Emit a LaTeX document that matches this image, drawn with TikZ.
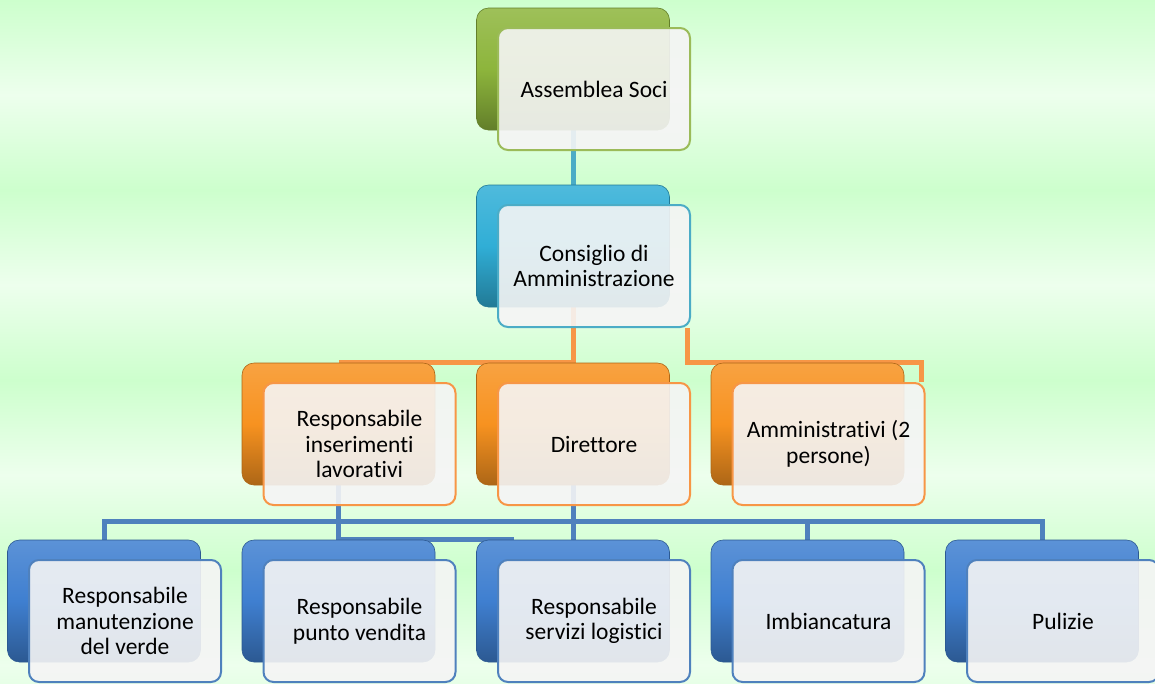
\documentclass[tikz,border=0pt]{standalone}
\usepackage{fontspec}
\setmainfont{Carlito}[Ligatures=NoCommon]

\definecolor{smgreen}{HTML}{9BBB59}
\definecolor{smcyan}{HTML}{4BACC6}
\definecolor{smorange}{HTML}{F79646}
\definecolor{smblue}{HTML}{4F81BD}
\definecolor{bkgreen}{HTML}{8DB53C}
\definecolor{bkcyan}{HTML}{30AED6}
\definecolor{bkorange}{HTML}{F79220}
\definecolor{bkblue}{HTML}{3F7FD0}
\definecolor{bgdark}{RGB}{205,255,205}
\definecolor{bglight}{RGB}{237,255,237}

\pgfdeclarelayer{bg}
\pgfdeclarelayer{links}
\pgfsetlayers{bg,links,main}

\tikzset{
    backbox/.style={rounded corners=12pt, minimum width=193pt, minimum height=122pt,
        inner sep=0pt, draw=#1!70!black, line width=0.6pt,
        top color=#1!85!white, bottom color=#1!70!black, middle color=#1},
    frontbox/.style={rounded corners=10pt, minimum width=192pt, minimum height=122pt,
        inner sep=2pt, draw=#1, line width=2pt, fill=black!4, fill opacity=0.9,
        text opacity=1, align=center, font=\fontsize{23.5}{25.5}\selectfont},
    link/.style={draw=#1, line width=5pt},
}

\begin{document}
\begin{tikzpicture}[x=1pt,y=-1pt]
    \useasboundingbox (0,0) rectangle (1155,683);
    \clip (0,0) rectangle (1155,683);

    % Background bands
    \begin{pgfonlayer}{bg}
        \foreach \k in {0,...,3} {
            \shade[top color=bgdark, bottom color=bglight] (0,190*\k) rectangle (1155,190*\k+95);
            \shade[top color=bglight, bottom color=bgdark] (0,190*\k+95) rectangle (1155,190*\k+190);
        }
    \end{pgfonlayer}

    % Assemblea
    \node[backbox=bkgreen] (asB) at (573,69) {};
    \node[frontbox=smgreen] (as) at (594,89) {Assemblea Soci};

    % Consiglio
    \node[backbox=bkcyan] (cdaB) at (573,246) {};
    \node[frontbox=smcyan] (cda) at (594,266) {Consiglio di\\Amministrazione};

    % Second level
    \node[backbox=bkorange] (resB) at (338.5,424) {};
    \node[frontbox=smorange] (res) at (359.5,444) {Responsabile\\inserimenti\\lavorativi};
    \node[backbox=bkorange] (dirB) at (573,424) {};
    \node[frontbox=smorange] (dir) at (594,444) {Direttore};
    \node[backbox=bkorange] (ammB) at (807.5,424) {};
    \node[frontbox=smorange] (amm) at (828.5,444) {Amministrativi (2\\persone)};

    % Third level
    \node[backbox=bkblue] (verB) at (104,601) {};
    \node[frontbox=smblue] (ver) at (125,621) {Responsabile\\manutenzione\\del verde};
    \node[backbox=bkblue] (pvB) at (338.5,601) {};
    \node[frontbox=smblue] (pv) at (359.5,621) {Responsabile\\punto vendita};
    \node[backbox=bkblue] (logB) at (573,601) {};
    \node[frontbox=smblue] (log) at (594,621) {Responsabile\\servizi logistici};
    \node[backbox=bkblue] (imbB) at (807.5,601) {};
    \node[frontbox=smblue] (imb) at (828.5,621) {Imbiancatura};
    \node[backbox=bkblue] (pulB) at (1042,601) {};
    \node[frontbox=smblue] (pul) at (1063,621) {Pulizie};

    \coordinate (stub) at (514,539);

    % Connectors
    \begin{pgfonlayer}{links}
        \draw[link=smcyan] (asB.south) -- (cdaB.north);
        \draw[link=smorange] (cdaB.south) |- (resB.north);
        \draw[link=smorange] ([xshift=-4pt]cda.south east) -- ([xshift=-4pt]cda.south east |- ammB.north)
            -| ([xshift=-4pt]amm.north east);
        \draw[link=smblue] (verB.north) -- ++(0,-18) -| (pulB.north);
        \draw[link=smblue] (imbB.north) -- ++(0,-18);
        \draw[link=smblue] (dirB.south) -- (logB.north);
        \draw[link=smblue] (resB.south) |- (stub);
    \end{pgfonlayer}

\end{tikzpicture}
\end{document}
